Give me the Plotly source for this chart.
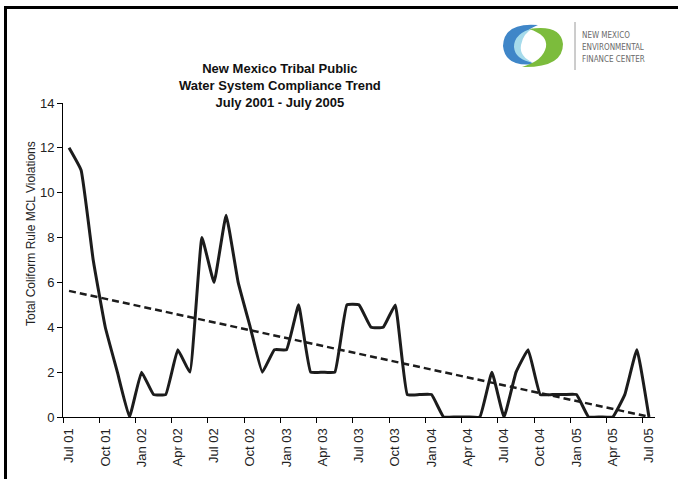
import numpy as np
import pandas as pd
import plotly.graph_objects as go

# ---- data ----
months = list(pd.period_range("2001-07", "2005-07", freq="M").strftime("%b %y"))
violations = [12, 11, 7, 4, 2, 0, 2, 1, 1, 3,
              2, 8, 6, 9, 6, 4, 2, 3, 3, 5,
              2, 2, 2, 5, 5, 4, 4, 5, 1, 1,
              1, 0, 0, 0, 0, 2, 0, 2, 3, 1,
              1, 1, 1, 0, 0, 0, 1, 3, 0]
tick_labels = ["Jul 01", "Oct 01", "Jan 02", "Apr 02", "Jul 02", "Oct 02", "Jan 03",
               "Apr 03", "Jul 03", "Oct 03", "Jan 04", "Apr 04", "Jul 04", "Oct 04",
               "Jan 05", "Apr 05", "Jul 05"]
y_ticks = [0, 2, 4, 6, 8, 10, 12, 14]

idx = np.arange(len(months))
slope, intercept = np.polyfit(idx, violations, 1)
trend_x = [idx[0], idx[-1]]
trend_y = [intercept + slope * v for v in trend_x]

W, H = 678, 479
L, R, T, B = 63, 23, 103, 62
PW, PH = W - L - R, H - T - B


def px(x):
    return (x - L) / PW


def py(y):
    return (H - B - y) / PH


def path(points):
    cmds = []
    for c, pts in points:
        cmds.append(c + " " + " ".join(f"{px(a):.5f},{py(b):.5f}" for a, b in pts))
    return " ".join(cmds) + " Z"


fig = go.Figure()
fig.add_trace(go.Scatter(
    x=idx, y=violations, mode="lines",
    line=dict(color="#1c1c1c", width=3, shape="spline", smoothing=0.3),
    hovertext=months, showlegend=False))
fig.add_trace(go.Scatter(
    x=trend_x, y=trend_y, mode="lines",
    line=dict(color="#1c1c1c", width=2.5, dash="7px,4px"),
    showlegend=False))

shapes = []
# page frame
shapes.append(dict(type="line", xref="paper", yref="paper",
                   x0=px(5.5), x1=px(5.5), y0=py(6), y1=py(H + 2),
                   line=dict(color="black", width=3)))
shapes.append(dict(type="line", xref="paper", yref="paper",
                   x0=px(4), x1=px(W + 2), y0=py(7.5), y1=py(7.5),
                   line=dict(color="black", width=3)))
# logo swirl
blue = path([("M", [(538, 25)]),
             ("Q", [(504, 22), (503, 46)]),
             ("Q", [(505, 68), (536, 64)]),
             ("Q", [(517, 58), (519, 45)]),
             ("Q", [(522, 31), (538, 25)])])
blue_in = path([("M", [(534, 28)]),
                ("Q", [(514, 33), (514, 47)]),
                ("Q", [(515, 60), (534, 63)]),
                ("Q", [(519, 57), (521, 45)]),
                ("Q", [(523, 33), (534, 28)])])
green = path([("M", [(522, 67)]),
              ("Q", [(563, 68), (563, 44)]),
              ("Q", [(561, 24), (529, 29)]),
              ("Q", [(548, 35), (546, 47)]),
              ("Q", [(543, 61), (522, 67)])])
shapes.append(dict(type="path", xref="paper", yref="paper", path=blue,
                   fillcolor="#3f86c8", line=dict(width=0)))
shapes.append(dict(type="path", xref="paper", yref="paper", path=blue_in,
                   fillcolor="#a6dbeb", line=dict(width=0)))
shapes.append(dict(type="path", xref="paper", yref="paper", path=green,
                   fillcolor="#7cbc3c", line=dict(width=0)))
shapes.append(dict(type="line", xref="paper", yref="paper",
                   x0=px(575), x1=px(575), y0=py(22), y1=py(70),
                   line=dict(color="#9a9a9a", width=1)))

annotations = [
    dict(text="<b>New Mexico Tribal Public<br>Water System Compliance Trend<br>July 2001 - July 2005</b>",
         xref="paper", yref="paper", x=px(280), y=py(86), xanchor="center", yanchor="middle",
         showarrow=False, font=dict(family="Liberation Sans, Arial", size=13, color="#111")),
    dict(text="Total Coliform Rule MCL Violations", textangle=-90,
         xref="paper", yref="paper", x=px(31), y=py(234), xanchor="center", yanchor="middle",
         showarrow=False, font=dict(family="Liberation Sans, Arial", size=12, color="#222")),
]
for i, t in enumerate(["NEW MEXICO", "ENVIRONMENTAL", "FINANCE CENTER"]):
    annotations.append(dict(text=t, xref="paper", yref="paper", x=px(580), y=py(35 + 12 * i),
                            xanchor="left", yanchor="middle", showarrow=False,
                            font=dict(family="Liberation Sans Narrow, DejaVu Sans Condensed, Arial",
                                      size=8, color="#6a6a6a")))

fig.update_layout(
    width=W, height=H, margin=dict(l=L, r=R, t=T, b=B),
    paper_bgcolor="white", plot_bgcolor="white",
    font=dict(family="Liberation Sans, Arial", size=13, color="#222"),
    shapes=shapes, annotations=annotations,
    xaxis=dict(range=[-0.5, 48.5], showgrid=False, zeroline=False,
               showline=True, linecolor="black", linewidth=1,
               tickmode="array", tickvals=list(idx[::3]), ticktext=tick_labels,
               tickangle=-90, ticks="outside", ticklen=5, tickcolor="rgba(0,0,0,0)",
               tickfont=dict(size=13, color="#222"),
               minor=dict(tickmode="array", tickvals=[v - 0.5 for v in idx[::3][:-1]] + [47.5],
                          ticks="outside", ticklen=5, tickcolor="black", tickwidth=1,
                          showgrid=False)),
    yaxis=dict(range=[0, 14], showgrid=False, zeroline=False,
               showline=True, linecolor="black", linewidth=1,
               tickmode="array", tickvals=y_ticks,
               ticks="outside", ticklen=5, tickcolor="black",
               tickfont=dict(size=13, color="#222")),
)
fig.write_html("out.html")
